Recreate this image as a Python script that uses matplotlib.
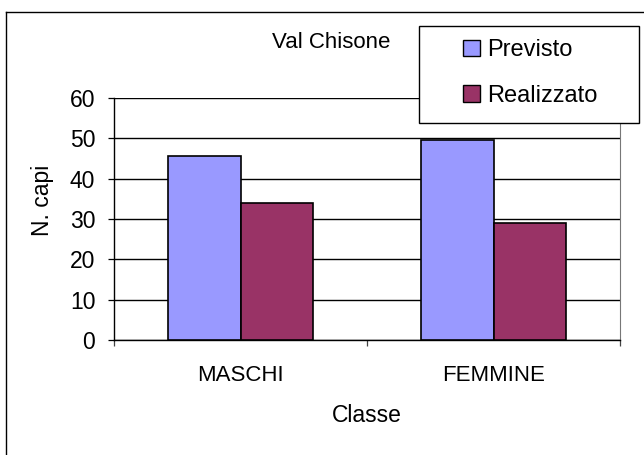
import numpy as np
import matplotlib.pyplot as plt
from matplotlib.patches import Rectangle
from matplotlib.lines import Line2D

plt.rcParams['font.family'] = ['Liberation Sans', 'DejaVu Sans']

categories = ["MASCHI", "FEMMINE"]
series_names = ["Previsto", "Realizzato"]
previsto = [45.5, 49.5]
realizzato = [34, 29]
colors = ["#9999FF", "#993366"]

W, H = 644, 455
fig = plt.figure(figsize=(W / 100, H / 100), dpi=100)
ax = fig.add_axes([114 / W, 1 - 340 / H, (620 - 114) / W, (340 - 98) / H])

centers = np.arange(len(categories)) + 0.5
bw = 1 / 3.5
ax.bar(centers - bw / 2, previsto, bw, color=colors[0], edgecolor="black", linewidth=1.2, zorder=3)
ax.bar(centers + bw / 2, realizzato, bw, color=colors[1], edgecolor="black", linewidth=1.2, zorder=3)

ax.set_xlim(0, len(categories))
ax.set_ylim(0, 60)
ax.set_yticks(np.arange(0, 61, 10))
ax.yaxis.grid(True, color="black", linewidth=1.0, zorder=0)
ax.tick_params(axis="y", direction="out", length=4.5, width=0.9, pad=9, labelsize=16.5)

ax.set_xticks(np.arange(len(categories) + 1))
ax.set_xticklabels([])
ax.tick_params(axis="x", which="major", direction="out", length=4.5, width=0.9, color="#444444")
ax.set_xticks(centers, minor=True)
ax.set_xticklabels(categories, minor=True)
ax.tick_params(axis="x", which="minor", length=0, pad=18, labelsize=16)

ax.spines["top"].set_visible(False)
ax.spines["right"].set_color("#777777")
ax.spines["right"].set_linewidth(0.8)
ax.spines["left"].set_linewidth(1.0)
ax.spines["bottom"].set_linewidth(1.0)

fig.text(367 / W, 1 - 415 / H, "Classe", ha="center", va="center", fontsize=16.5)
fig.text(43 / W, 1 - 200 / H, "N. capi", ha="center", va="center", rotation=90, fontsize=16.5)
fig.text(331 / W, 1 - 42 / H, "Val Chisone", ha="center", va="center", fontsize=16)

# legend box
fig.add_artist(Rectangle((419 / W, 1 - 123 / H), (639 - 419) / W, (123 - 26) / H,
                         transform=fig.transFigure, facecolor="white", edgecolor="black", linewidth=1.0))
handles = [Rectangle((0, 0), 1, 1, facecolor=c, edgecolor="black", linewidth=1.0) for c in colors]
fig.legend(handles, series_names, loc="center left", bbox_to_anchor=(463 / W, 1 - 73 / H),
           frameon=False, fontsize=17, handlelength=0.72, handleheight=0.72,
           handletextpad=0.3, labelspacing=1.0, borderpad=0, borderaxespad=0)

# outer chart border
fig.add_artist(Line2D([6 / W, 6 / W], [0, 1 - 12 / H], transform=fig.transFigure, color="black", linewidth=1.0))
fig.add_artist(Line2D([6 / W, 1], [1 - 12 / H, 1 - 12 / H], transform=fig.transFigure, color="black", linewidth=1.0))

fig.savefig("out.png", dpi=100)
